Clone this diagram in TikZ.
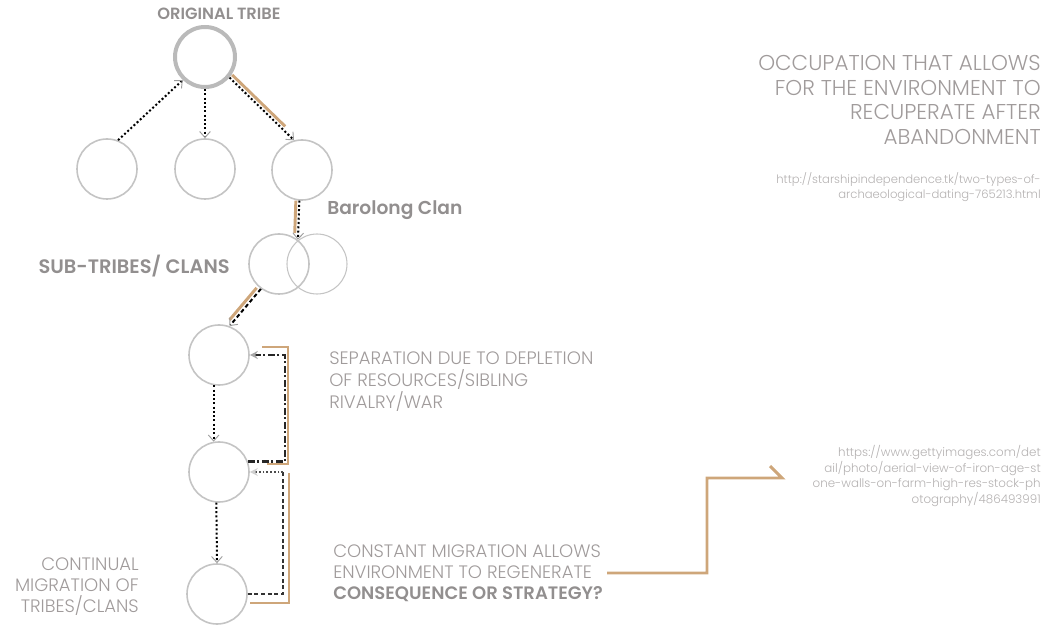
\documentclass[tikz,border=0pt]{standalone}
\usepackage{fontspec}
\setmainfont{Poppins}
\newfontfamily\thinfont{Poppins Light}
\newfontfamily\semifont{Poppins SemiBold}
\usetikzlibrary{arrows.meta,calc}
\definecolor{ringgray}{RGB}{196,196,196}
\definecolor{headtxt}{RGB}{146,143,143}
\definecolor{softtxt}{RGB}{160,155,155}
\definecolor{urltxt}{RGB}{180,177,177}
\definecolor{sand}{RGB}{206,166,122}
\tikzset{
  ring/.style={circle,draw=ringgray,line width=1.2pt,minimum size=45pt,inner sep=0pt},
  vtip/.style={-{Straight Barb[length=4.5pt,width=8pt,color=ringgray!80!black,line width=0.7pt]}},
  migr/.style={vtip,black,line width=1.5pt,dash pattern=on 1.5pt off 1.7pt},
  sandline/.style={sand,line width=2.2pt},
  headlbl/.style={text=headtxt,font=\semifont\fontsize{14}{17}\selectfont,inner sep=0pt},
  softlbl/.style={text=softtxt,font=\thinfont\fontsize{13.5}{16.5}\selectfont,inner sep=0pt},
  urllbl/.style={text=urltxt,font=\thinfont\fontsize{8.7}{11.2}\selectfont,inner sep=0pt,align=right,anchor=east}
}
\begin{document}
\begin{tikzpicture}[x=0.75pt,y=-0.75pt]
\useasboundingbox (0,0) rectangle (1043,627);

\node[ring,line width=3pt,draw=ringgray!95!black] (orig) at (205,57) {};
\node[ring] (tribeA) at (107,169) {};
\node[ring] (tribeB) at (205,169) {};
\node[ring] (tribeC) at (302,170) {};
\node[ring,line width=0.8pt] (clanB) at (317,264) {};
\node[ring] (clanA) at (279,264) {};
\node[ring] (siteA) at (219,355) {};
\node[ring] (siteB) at (219,472) {};
\node[ring] (siteC) at (217,594) {};

\node[headlbl,font=\semifont\fontsize{12.2}{14}\selectfont] (origlbl) at (219,14) {ORIGINAL TRIBE};
\node[headlbl,anchor=west] (barolong) at (327,210) {Barolong Clan};
\node[headlbl,anchor=east,font=\semifont\fontsize{14.6}{17}\selectfont] (sublbl) at (230,266) {SUB-TRIBES/ CLANS};
\node[softlbl,anchor=west,align=left] (seplbl) at (329,382) {SEPARATION DUE TO DEPLETION\\OF RESOURCES/SIBLING\\RIVALRY/WAR};
\node[softlbl,anchor=east,align=right,font=\thinfont\fontsize{13.5}{15.7}\selectfont] (contlbl) at (139,587) {CONTINUAL\\MIGRATION OF\\TRIBES/CLANS};
\node[softlbl,anchor=west,align=left,font=\thinfont\fontsize{13.5}{15.7}\selectfont] (constlbl) at (333,573) {CONSTANT MIGRATION ALLOWS\\ENVIRONMENT TO REGENERATE\\\semifont\textcolor{headtxt}{CONSEQUENCE OR STRATEGY?}};
\node[softlbl,anchor=east,align=right,font=\thinfont\fontsize{16.1}{18.5}\selectfont] (occlbl) at (1041,100) {OCCUPATION THAT ALLOWS\\FOR THE ENVIRONMENT TO\\RECUPERATE AFTER\\ABANDONMENT};
\node[urllbl] (urlA) at (1041,187) {http://starshipindependence.tk/two-types-of-\\archaeological-dating-765213.html};
\node[urllbl,font=\thinfont\fontsize{8.9}{11.8}\selectfont] (urlB) at (1041,476) {https://www.gettyimages.com/det\\ail/photo/aerial-view-of-iron-age-st\\one-walls-on-farm-high-res-stock-ph\\otography/486493991};

\coordinate (sepx) at (285,0);
\coordinate (regx) at (283,0);
\coordinate (zstart) at (607,573);

\draw[sandline,transform canvas={xshift=2pt,yshift=2pt},shorten >=12pt] (orig.-40) -- (tribeC.105);
\draw[sandline,transform canvas={xshift=-2.6pt},shorten >=5pt] (tribeC.-95) -- (clanA.52);
\draw[sandline,transform canvas={xshift=-3.2pt,yshift=0.8pt},shorten >=5pt] (clanA.234) -- (siteA.70);

\draw[migr] (tribeA.69) -- (orig.226);
\draw[migr] (orig.south) -- (tribeB.north);
\draw[migr] (orig.-40) -- (tribeC.105);
\draw[migr] (tribeC.-95) -- (clanA.52);
\draw[migr,dash pattern=on 3pt off 2pt] (clanA.234) -- (siteA.70);
\draw[migr] (siteA.-100) -- (siteB.100);
\draw[migr] (siteB.-95) -- (siteC.north);

\draw[sandline] (267,464) -- (288,464) -- (288,347) -- (262,347);
\draw[sandline] (250,603) -- (289,603) -- (289,473);

\draw[-{Stealth[length=6pt,width=6pt,color=ringgray!85!black]},black!85,line width=1.8pt,dash pattern=on 5pt off 2pt on 1.5pt off 2pt] (siteB.20) -| (sepx |- siteA.east) -- (siteA.east);
\draw[black!80,line width=0.8pt,dash pattern=on 3pt off 2pt] (siteC.east) -| (regx |- siteB.east);
\draw[-{Stealth[length=6pt,width=6pt,color=ringgray!80]},black!70,line width=0.8pt,dash pattern=on 1.2pt off 1.6pt] (regx |- siteB.east) -- (siteB.east);

\draw[sandline] (zstart) -- ++(100,0) |- (782,478) -- ++(-12,-12);
\end{tikzpicture}
\end{document}
